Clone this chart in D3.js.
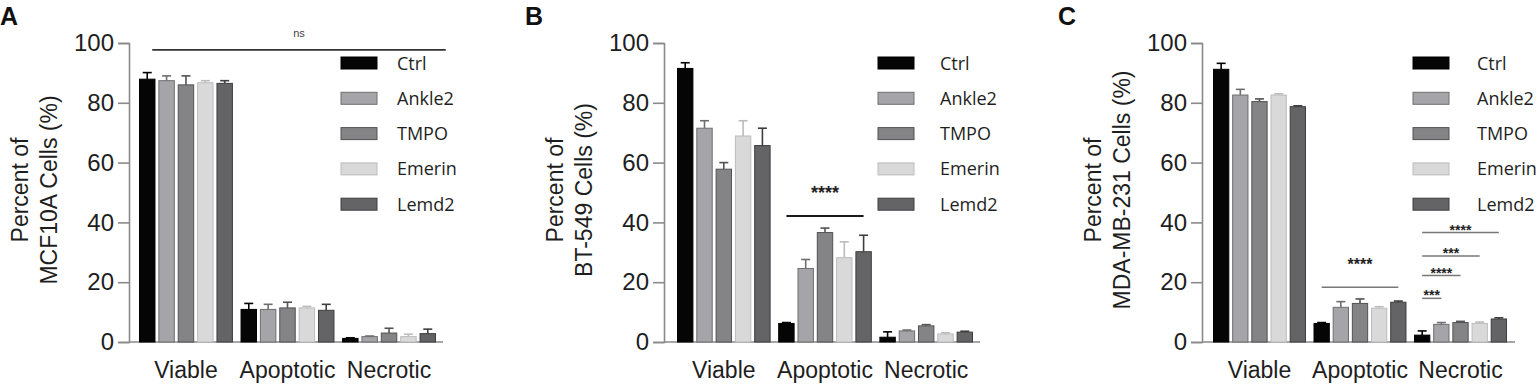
<!DOCTYPE html>
<html>
<head>
<meta charset="utf-8">
<script src="https://cdn.jsdelivr.net/npm/d3@7"></script>
<style>
	body { margin: 0; background: #fff; }
	svg { display: block; }
</style>
</head>
<body>
<div id="chart"></div>
<script>

// categories and groups shared by the three panels
const categories = ["Viable", "Apoptotic", "Necrotic"];
const groups = ["Ctrl", "Ankle2", "TMPO", "Emerin", "Lemd2"];
const yTicks = [0, 20, 40, 60, 80, 100];

// means: one row per category, one column per group
const mcf10aMeans = [[87.9, 87.4, 86.0, 86.7, 86.5], [10.9, 10.9, 11.4, 11.4, 10.6], [1.2, 1.8, 3.0, 1.8, 2.8]];
const mcf10aErr   = [[2.2, 1.6, 3.0, 0.7, 0.9], [2.0, 1.7, 1.9, 0.5, 2.0], [0.2, 0.2, 1.6, 0.8, 1.5]];

const bt549Means = [[91.5, 71.5, 57.8, 68.9, 65.7], [6.2, 24.6, 36.6, 28.2, 30.2], [1.6, 3.7, 5.4, 2.7, 3.3]];
const bt549Err   = [[1.9, 2.5, 2.2, 5.1, 5.8], [0.3, 3.0, 1.5, 5.3, 5.5], [1.8, 0.3, 0.4, 0.4, 0.3]];

const mdaMeans = [[91.2, 82.6, 80.4, 82.6, 78.7], [6.2, 11.6, 12.9, 11.3, 13.3], [2.3, 5.9, 6.5, 6.2, 7.7]];
const mdaErr   = [[2.0, 1.9, 0.9, 0.4, 0.3], [0.3, 1.9, 1.5, 0.5, 0.4], [1.4, 0.6, 0.4, 0.5, 0.4]];

// significance brackets: [category, from group, to group, value, label]
const mcf10aSig = [["Viable", "Ctrl", "Lemd2", 97.7, "ns"]];
const bt549Sig = [["Apoptotic", "Ctrl", "Lemd2", 42.1, "****"]];
const mdaSig = [
	["Apoptotic", "Ctrl", "Lemd2", 18.3, "****"],
	["Necrotic", "Ctrl", "Ankle2", 14.6, "***"],
	["Necrotic", "Ctrl", "TMPO", 22.2, "****"],
	["Necrotic", "Ctrl", "Emerin", 28.8, "***"],
	["Necrotic", "Ctrl", "Lemd2", 36.6, "****"]
];

const fills   = ["#050505", "#a5a5a9", "#848486", "#d9d9d9", "#646466"];
const strokes = ["#000000", "#6e6e70", "#525254", "#bcbcbc", "#3e3e40"];

const panels = [
	{ letter: "A", letterX: 0, axisX: 129, x0: 139, x1: 436, axisEnd: 443, legendX: 341, labelX: 397,
	  title: ["Percent of", "MCF10A Cells (%)"], means: mcf10aMeans, err: mcf10aErr, sig: mcf10aSig,
	  sigStyle: { color: "#333", width: 1.6, font: 11, gap: 13, star: false, right: "Necrotic", extend: [5, 18] } },
	{ letter: "B", letterX: 525, axisX: 664, x0: 677, x1: 973, axisEnd: 980, legendX: 878, labelX: 940,
	  title: ["Percent of", "BT-549 Cells (%)"], means: bt549Means, err: bt549Err, sig: bt549Sig,
	  sigStyle: { color: "#1a1a1a", width: 2, font: 18, gap: 28, star: true } },
	{ letter: "C", letterX: 1058, axisX: 1202, x0: 1213, x1: 1507, axisEnd: 1515, legendX: 1413, labelX: 1477,
	  title: ["Percent of", "MDA-MB-231 Cells (%)"], means: mdaMeans, err: mdaErr, sig: mdaSig,
	  sigStyle: { color: "#777", width: 1.5, font: 16, gap: 27, star: true, smallGap: 6, smallFont: 14 } }
];

const W = 1540, H = 392;
const yTop = 43, yBottom = 342;
const sans = "'Liberation Sans', Arial, sans-serif";

let svg = d3.select("#chart").append("svg")
	.attr("width", W)
	.attr("height", H);

let y = d3.scaleLinear()
	.domain([0, 100])
	.range([yBottom, yTop]);

panels.forEach(p => {
	let g = svg.append("g");

	let xOuter = d3.scaleBand()
		.domain(categories)
		.range([p.x0, p.x1])
		.paddingInner(0.075)
		.paddingOuter(0);

	let xInner = d3.scaleBand()
		.domain(groups)
		.range([0, xOuter.bandwidth()])
		.paddingInner(0.15)
		.paddingOuter(0);

	// panel letter
	g.append("text")
		.attr("x", p.letterX)
		.attr("y", 25)
		.attr("font-family", sans)
		.attr("font-weight", "bold")
		.attr("font-size", 25)
		.attr("fill", "#111")
		.text(p.letter);

	// y axis
	let yAxis = d3.axisLeft(y)
		.tickValues(yTicks)
		.tickSize(11)
		.tickPadding(4);

	let yg = g.append("g")
		.attr("transform", `translate(${p.axisX},0)`)
		.call(yAxis);
	yg.select(".domain").attr("stroke", "#8a8a8a").attr("stroke-width", 1.6);
	yg.selectAll(".tick line").attr("stroke", "#8a8a8a").attr("stroke-width", 1.6);
	yg.selectAll(".tick text")
		.attr("font-family", sans)
		.attr("font-size", 24)
		.attr("fill", "#1e1e1e");

	// x baseline
	g.append("line")
		.attr("x1", p.axisX)
		.attr("x2", p.axisEnd)
		.attr("y1", y(0))
		.attr("y2", y(0))
		.attr("stroke", "#8a8a8a")
		.attr("stroke-width", 1.6);

	// y title
	p.title.forEach((t, i) => {
		g.append("text")
			.attr("transform", `translate(${p.axisX - 101 + i * 29},190) rotate(-90)`)
			.attr("text-anchor", "middle")
			.attr("font-family", sans)
			.attr("font-size", 23)
			.attr("fill", "#1e1e1e")
			.text(t);
	});

	// category labels
	g.selectAll(".cat")
		.data(categories)
		.enter().append("text")
		.attr("class", "cat")
		.attr("x", d => xOuter(d) + xOuter.bandwidth() / 2)
		.attr("y", 378)
		.attr("text-anchor", "middle")
		.attr("font-family", sans)
		.attr("font-size", 23)
		.attr("fill", "#1e1e1e")
		.text(d => d);

	// bars
	let barData = [];
	categories.forEach((c, ci) => {
		groups.forEach((gr, gi) => {
			barData.push({ cat: c, group: gr, gi: gi, value: p.means[ci][gi], err: p.err[ci][gi] });
		});
	});

	let bx = d => xOuter(d.cat) + xInner(d.group);
	let bw = xInner.bandwidth();

	// error bars (upper only)
	let eb = g.selectAll(".err")
		.data(barData)
		.enter().append("g")
		.attr("class", "err")
		.attr("stroke", d => d.gi === 0 ? "#000" : strokes[d.gi])
		.attr("stroke-width", 1.6);
	eb.append("line")
		.attr("x1", d => bx(d) + bw / 2)
		.attr("x2", d => bx(d) + bw / 2)
		.attr("y1", d => y(d.value))
		.attr("y2", d => y(d.value + d.err));
	eb.append("line")
		.attr("x1", d => bx(d) + bw / 2 - 4.5)
		.attr("x2", d => bx(d) + bw / 2 + 4.5)
		.attr("y1", d => y(d.value + d.err))
		.attr("y2", d => y(d.value + d.err));

	g.selectAll(".bar")
		.data(barData)
		.enter().append("rect")
		.attr("class", "bar")
		.attr("x", d => bx(d) + 0.5)
		.attr("width", bw - 1)
		.attr("y", d => y(d.value))
		.attr("height", d => y(0) - y(d.value))
		.attr("fill", d => fills[d.gi])
		.attr("stroke", d => strokes[d.gi])
		.attr("stroke-width", 1);

	// legend
	let leg = g.selectAll(".leg")
		.data(groups)
		.enter().append("g")
		.attr("class", "leg")
		.attr("transform", (d, i) => `translate(0,${63 + i * 35.3})`);
	leg.append("rect")
		.attr("x", p.legendX)
		.attr("y", -6)
		.attr("width", 36)
		.attr("height", 12)
		.attr("fill", (d, i) => fills[i])
		.attr("stroke", (d, i) => strokes[i])
		.attr("stroke-width", 1);
	leg.append("text")
		.attr("x", p.labelX)
		.attr("y", 6.5)
		.attr("font-family", "'Open Sans', sans-serif")
		.attr("font-size", 18)
		.attr("fill", "#1e1e1e")
		.text(d => d);

	// significance brackets
	let s = p.sigStyle;
	p.sig.forEach(d => {
		let [cat, g1, g2, v, label] = d;
		let xa = xOuter(cat) + xInner(g1) + bw / 2;
		let catEnd = s.right || cat;
		let xb = xOuter(catEnd) + xInner(g2) + bw / 2;
		if (s.extend) { xa += s.extend[0]; xb += s.extend[1]; }
		let ly = y(v);
		let small = cat === "Necrotic" && s.smallGap;
		let gap = small ? s.smallGap : s.gap;
		let fs = small ? s.smallFont : s.font;

		g.append("line")
			.attr("x1", xa).attr("x2", xb)
			.attr("y1", ly).attr("y2", ly)
			.attr("stroke", s.color)
			.attr("stroke-width", s.width);

		// star glyphs sit high, so place their middle at the gap
		let base = s.star ? ly - gap + 0.58 * fs : ly - gap;
		g.append("text")
			.attr("x", (xa + xb) / 2)
			.attr("y", base)
			.attr("text-anchor", "middle")
			.attr("font-family", sans)
			.attr("font-weight", s.star ? "bold" : "normal")
			.attr("font-size", fs)
			.attr("fill", s.star ? "#222" : "#444")
			.text(label);
	});
});

</script>
</body>
</html>
